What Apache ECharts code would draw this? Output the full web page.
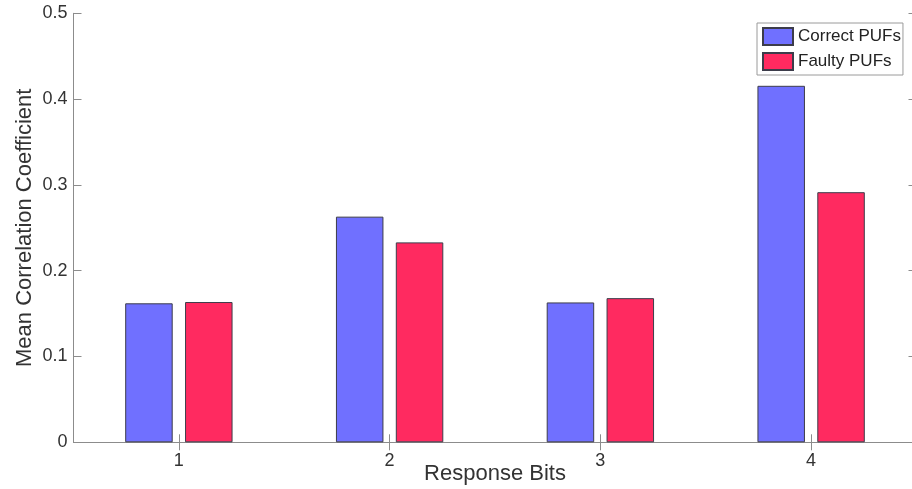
<!DOCTYPE html>
<html>
<head>
<meta charset="utf-8">
<title>Mean Correlation Coefficient by Response Bit</title>
<script src="https://cdn.jsdelivr.net/npm/echarts@6/dist/echarts.min.js"></script>
<style>
  html, body { margin: 0; padding: 0; background: #ffffff; }
  #chart { width: 912px; height: 489px; }
</style>
</head>
<body>
<div id="chart"></div>
<script>
// Response bit categories and mean correlation coefficients per PUF group
const categories = ['1', '2', '3', '4'];
const correctPUFs = [0.162, 0.263, 0.163, 0.4155];
const faultyPUFs = [0.1635, 0.233, 0.168, 0.2915];
const seriesNames = ['Correct PUFs', 'Faulty PUFs'];
const yTicks = { min: 0, max: 0.5, interval: 0.1 };

const FONT = '"Liberation Sans", Arial, Helvetica, sans-serif';
const AXIS_COLOR = '#8c8c8c';
const TEXT_COLOR = '#333333';

const chart = echarts.init(document.getElementById('chart'), null, { renderer: 'canvas' });

const boxAxis = {
  axisLine: { show: true, lineStyle: { color: AXIS_COLOR, width: 1 } },
  axisTick: { show: true, inside: true, length: 8, lineStyle: { color: AXIS_COLOR } },
  splitLine: { show: false }
};

chart.setOption({
  animation: false,
  backgroundColor: '#ffffff',
  grid: {
    left: 73.5, top: 13.3, width: 843, height: 429,
    containLabel: false,
    outerBoundsMode: 'none'
  },
  legend: {
    data: seriesNames,
    orient: 'vertical',
    left: 757,
    top: 23,
    padding: [4, 2, 4, 5],
    itemGap: 6,
    itemWidth: 30,
    itemHeight: 17,
    icon: 'rect',
    backgroundColor: '#ffffff',
    borderColor: '#9a9a9a',
    borderWidth: 1,
    borderRadius: 0,
    textStyle: { fontFamily: FONT, fontSize: 17, color: '#222222' }
  },
  xAxis: [
    Object.assign({}, boxAxis, {
      type: 'category',
      data: categories,
      position: 'bottom',
      axisTick: Object.assign({}, boxAxis.axisTick, { alignWithLabel: true }),
      axisLabel: { fontFamily: FONT, fontSize: 18, color: TEXT_COLOR, margin: 10 },
      name: 'Response Bits',
      nameLocation: 'middle',
      nameGap: 21,
      nameMoveOverlap: false,
      nameTextStyle: { fontFamily: FONT, fontSize: 22, color: TEXT_COLOR }
    }),
    Object.assign({}, boxAxis, {
      type: 'category',
      data: categories,
      position: 'top',
      axisTick: Object.assign({}, boxAxis.axisTick, { alignWithLabel: true }),
      axisLabel: { show: false }
    })
  ],
  yAxis: [
    Object.assign({}, boxAxis, {
      type: 'value',
      position: 'left',
      min: yTicks.min,
      max: yTicks.max,
      interval: yTicks.interval,
      axisLabel: {
        fontFamily: FONT, fontSize: 18, color: TEXT_COLOR, margin: 6,
        formatter: v => (v === 0 ? '0' : String(+v.toFixed(1)))
      },
      name: 'Mean Correlation Coefficient',
      nameLocation: 'middle',
      nameGap: 38,
      nameMoveOverlap: false,
      nameTextStyle: { fontFamily: FONT, fontSize: 22, color: TEXT_COLOR }
    }),
    Object.assign({}, boxAxis, {
      type: 'value',
      position: 'right',
      min: yTicks.min,
      max: yTicks.max,
      interval: yTicks.interval,
      axisLabel: { show: false }
    })
  ],
  series: [
    {
      name: seriesNames[0],
      type: 'bar',
      data: correctPUFs,
      barWidth: 47.5,
      barGap: '26%',
      itemStyle: { color: '#7070ff', borderColor: '#3c3c4a', borderWidth: 1 }
    },
    {
      name: seriesNames[1],
      type: 'bar',
      data: faultyPUFs,
      barWidth: 47.5,
      barGap: '26%',
      itemStyle: { color: '#ff2a60', borderColor: '#3c3c4a', borderWidth: 1 }
    }
  ]
});
</script>
</body>
</html>
